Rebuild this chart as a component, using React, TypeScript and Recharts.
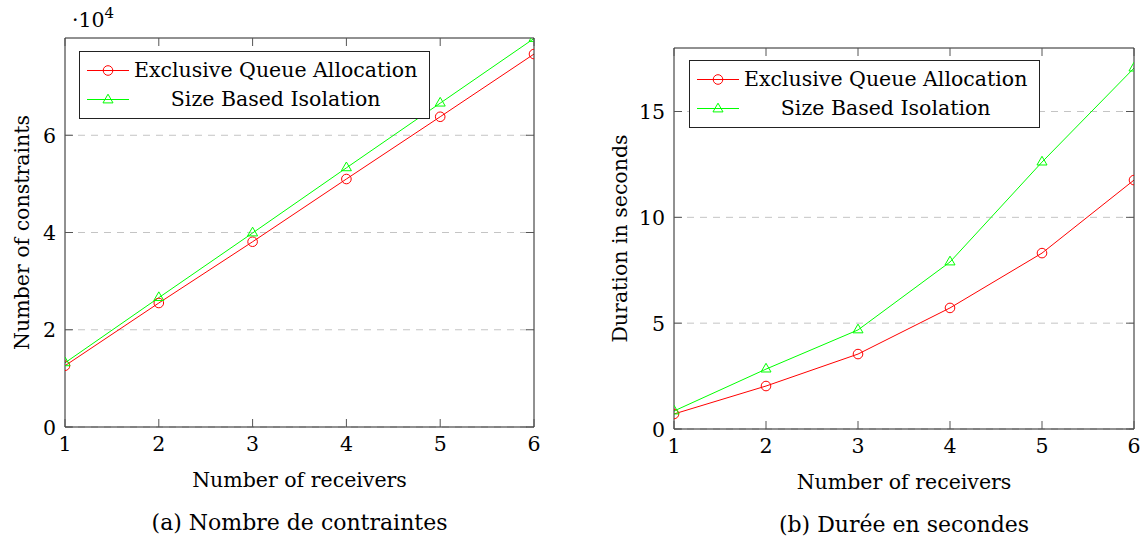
import React from 'react';
import { LineChart, Line, XAxis, YAxis, CartesianGrid, Legend } from 'recharts';

const receivers = [1, 2, 3, 4, 5, 6];
const constraintsExclusive = [12600, 25500, 38100, 51000, 63800, 76700];
const constraintsSize = [13200, 26600, 39900, 53300, 66600, 79900];
const durationExclusive = [0.71, 2.03, 3.54, 5.72, 8.31, 11.76];
const durationSize = [0.85, 2.83, 4.68, 7.89, 12.61, 17.05];
const xTicks = [1, 2, 3, 4, 5, 6];
const constraintsTicks = [0, 20000, 40000, 60000];
const durationTicks = [0, 5, 10, 15];
const seriesNames = ['Exclusive Queue Allocation', 'Size Based Isolation'];
const seriesColors = ['#ff0000', '#00ff00'];
const xLabel = 'Number of receivers';
const yLabels = ['Number of constraints', 'Duration in seconds'];
const captions = ['(a) Nombre de contraintes', '(b) Durée en secondes'];

const FONT = '"DejaVu Serif", "Liberation Serif", serif';
const FS = 20.5;
const CAP_FS = 22;
const AXIS = '#222';
const TICK = '#555';
const GRID = '#c4c4c4';
const TL = 8;

const dataA = receivers.map((r, i) => ({ r, a: constraintsExclusive[i], b: constraintsSize[i] }));
const dataB = receivers.map((r, i) => ({ r, a: durationExclusive[i], b: durationSize[i] }));

function circleMark(cx: number, cy: number, color: string, key?: any) {
  return <circle key={key} cx={cx} cy={cy} r={4.8} fill="none" stroke={color} strokeWidth={1} />;
}
function triMark(cx: number, cy: number, color: string, key?: any) {
  const r = 5.8;
  const d = `M${cx},${cy - r} L${cx + r * 0.866},${cy + r / 2} L${cx - r * 0.866},${cy + r / 2} Z`;
  return <path key={key} d={d} fill="none" stroke={color} strokeWidth={1} />;
}

const CircleDot = (p: any) => (p.cx == null ? <g key={p.key} /> : circleMark(p.cx, p.cy, seriesColors[0], p.key));
const TriDot = (p: any) => (p.cx == null ? <g key={p.key} /> : triMark(p.cx, p.cy, seriesColors[1], p.key));

const BottomTick = (p: any) => (
  <g>
    <line x1={p.x} y1={p.y} x2={p.x} y2={p.y - TL} stroke={TICK} strokeWidth={1} />
    <text x={p.x} y={p.y + 24} textAnchor="middle" fontFamily={FONT} fontSize={FS} fill="#000">
      {p.payload.value}
    </text>
  </g>
);
const TopTick = (p: any) => <line x1={p.x} y1={p.y} x2={p.x} y2={p.y + TL} stroke={TICK} strokeWidth={1} />;
const RightTick = (p: any) => <line x1={p.x} y1={p.y} x2={p.x - TL} y2={p.y} stroke={TICK} strokeWidth={1} />;
const makeLeftTick = (fmt: (v: number) => string) => (p: any) => (
  <g>
    <line x1={p.x} y1={p.y} x2={p.x + TL} y2={p.y} stroke={TICK} strokeWidth={1} />
    <text x={p.x - 9} y={p.y + 7.5} textAnchor="end" fontFamily={FONT} fontSize={FS} fill="#000">
      {fmt(p.payload.value)}
    </text>
  </g>
);

const renderLegend = (props: any) => {
  const payload = (props.payload || []).filter((e: any) => seriesNames.includes(e.value));
  return (
    <div
      style={{
        border: '1px solid #222',
        background: '#fff',
        padding: '4px 12px 4px 7px',
        fontFamily: FONT,
        fontSize: FS,
        lineHeight: '29px',
        display: 'inline-block',
        color: '#000',
        whiteSpace: 'nowrap',
      }}
    >
      {payload.map((e: any, i: number) => (
        <div key={i} style={{ display: 'flex', alignItems: 'center' }}>
          <svg width={42} height={29} style={{ display: 'block' }}>
            <line x1={0} y1={14.5} x2={42} y2={14.5} stroke={e.color} strokeWidth={1} />
            {i === 0 ? circleMark(21, 14.5, e.color) : triMark(21, 15, e.color)}
          </svg>
          <span style={{ flex: 1, textAlign: 'center', marginLeft: 5 }}>{e.value}</span>
        </div>
      ))}
    </div>
  );
};

type PanelProps = {
  left: number;
  width: number;
  mTop: number;
  mRight: number;
  yW: number;
  xH: number;
  data: any[];
  yDomain: [number, number];
  yTicks: number[];
  fmt: (v: number) => string;
  idx: number;
  yLabelX: number;
  legendLeft: number;
  legendTop: number;
  showExp: boolean;
};

function Panel(pp: PanelProps) {
  const LeftTick = makeLeftTick(pp.fmt);
  const xLabelContent = (p: any) => {
    const vb = p.viewBox || {};
    const cx = vb.x + vb.width / 2;
    return (
      <g>
        <text x={cx} y={vb.y + 60} textAnchor="middle" fontFamily={FONT} fontSize={FS} fill="#000">
          {xLabel}
        </text>
        <text x={cx} y={vb.y + 103} textAnchor="middle" fontFamily={FONT} fontSize={CAP_FS} fill="#000">
          {captions[pp.idx]}
        </text>
      </g>
    );
  };
  const yLabelContent = (p: any) => {
    const vb = p.viewBox || {};
    const cy = vb.y + vb.height / 2;
    return (
      <g>
        <text
          x={pp.yLabelX}
          y={cy}
          textAnchor="middle"
          fontFamily={FONT}
          fontSize={FS}
          fill="#000"
          transform={`rotate(-90 ${pp.yLabelX} ${cy})`}
        >
          {yLabels[pp.idx]}
        </text>
        {pp.showExp ? (
          <text x={72} y={27} fontFamily={FONT} fontSize={FS} fill="#000">
            ·10
            <tspan dy={-9} fontSize={15}>
              4
            </tspan>
          </text>
        ) : null}
      </g>
    );
  };
  return (
    <div style={{ position: 'absolute', left: pp.left, top: 0 }}>
      <LineChart
        width={pp.width}
        height={539}
        data={pp.data}
        margin={{ top: pp.mTop, right: pp.mRight, bottom: 0, left: 0 }}
      >
        <CartesianGrid vertical={false} stroke={GRID} strokeDasharray="7 6" yAxisId="left" horizontalValues={pp.yTicks} />
        <XAxis
          dataKey="r"
          type="number"
          domain={[1, 6]}
          ticks={xTicks}
          interval={0}
          allowDataOverflow
          height={pp.xH}
          tickSize={0}
          tickMargin={0}
          tickLine={false}
          axisLine={{ stroke: AXIS, strokeWidth: 1 }}
          tick={BottomTick}
          label={{ content: xLabelContent }}
        />
        <XAxis
          xAxisId="top"
          orientation="top"
          dataKey="r"
          type="number"
          domain={[1, 6]}
          ticks={xTicks}
          interval={0}
          allowDataOverflow
          height={1}
          tickSize={0}
          tickMargin={0}
          tickLine={false}
          axisLine={{ stroke: AXIS, strokeWidth: 1 }}
          tick={TopTick}
        />
        <YAxis
          yAxisId="left"
          type="number"
          domain={pp.yDomain}
          ticks={pp.yTicks}
          interval={0}
          allowDataOverflow
          width={pp.yW}
          tickSize={0}
          tickMargin={0}
          tickLine={false}
          axisLine={{ stroke: AXIS, strokeWidth: 1 }}
          tick={LeftTick}
          label={{ content: yLabelContent }}
        />
        <YAxis
          yAxisId="right"
          orientation="right"
          type="number"
          domain={pp.yDomain}
          ticks={pp.yTicks}
          interval={0}
          allowDataOverflow
          width={1}
          tickSize={0}
          tickMargin={0}
          tickLine={false}
          axisLine={{ stroke: AXIS, strokeWidth: 1 }}
          tick={RightTick}
        />
        <Line
          xAxisId="top"
          yAxisId="right"
          type="linear"
          dataKey="b"
          stroke="none"
          dot={false}
          activeDot={false}
          legendType="none"
          isAnimationActive={false}
        />
        <Line
          yAxisId="left"
          type="linear"
          dataKey="a"
          name={seriesNames[0]}
          stroke={seriesColors[0]}
          strokeWidth={1}
          dot={CircleDot}
          activeDot={false}
          isAnimationActive={false}
        />
        <Line
          yAxisId="left"
          type="linear"
          dataKey="b"
          name={seriesNames[1]}
          stroke={seriesColors[1]}
          strokeWidth={1}
          dot={TriDot}
          activeDot={false}
          isAnimationActive={false}
        />
        <Legend
          layout="horizontal"
          verticalAlign="middle"
          align="center"
          content={renderLegend}
          wrapperStyle={{ left: pp.legendLeft, top: pp.legendTop, width: 'auto', height: 'auto' }}
        />
      </LineChart>
    </div>
  );
}

export default function App() {
  return (
    <div style={{ position: 'absolute', left: 0, top: 0, width: 1144, height: 539, background: '#fff', overflow: 'hidden' }}>
      <Panel
        left={0}
        width={560}
        mTop={37}
        mRight={25}
        yW={65}
        xH={112}
        data={dataA}
        yDomain={[0, 80000]}
        yTicks={constraintsTicks}
        fmt={(v) => String(v / 10000)}
        idx={0}
        yLabelX={29}
        legendLeft={79}
        legendTop={51}
        showExp={true}
      />
      <Panel
        left={580}
        width={564}
        mTop={47}
        mRight={9}
        yW={94}
        xH={110}
        data={dataB}
        yDomain={[0, 18]}
        yTicks={durationTicks}
        fmt={(v) => String(v)}
        idx={1}
        yLabelX={47}
        legendLeft={109}
        legendTop={60}
        showExp={false}
      />
    </div>
  );
}
